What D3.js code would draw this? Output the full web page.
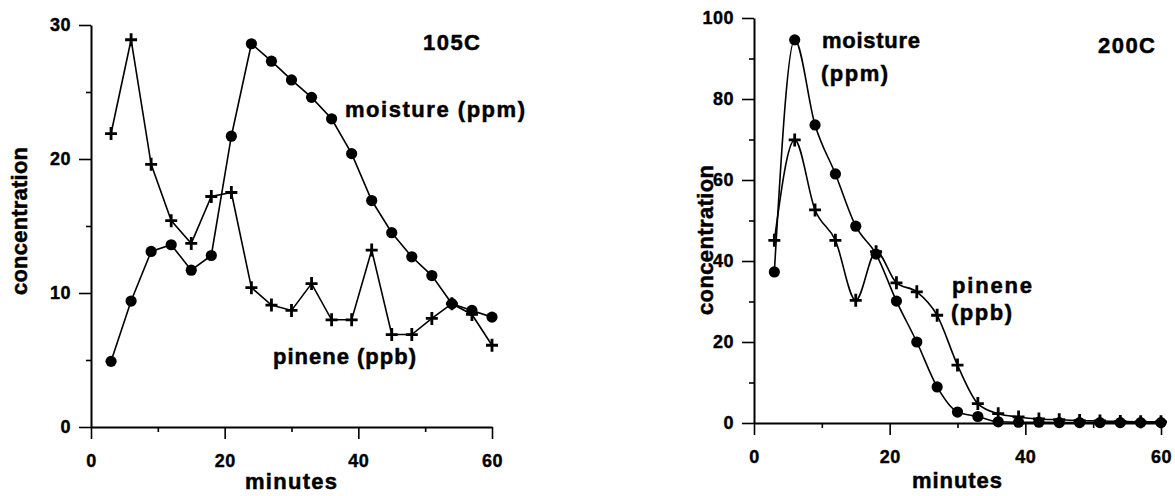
<!DOCTYPE html>
<html>
<head>
<meta charset="utf-8">
<script src="https://cdn.jsdelivr.net/npm/d3@7"></script>
<style>
  html, body { margin: 0; padding: 0; background: #fff; }
  svg { display: block; font-family: "Liberation Sans", Arial, sans-serif; font-weight: bold; }
  text { fill: #000; stroke: #000; }
</style>
</head>
<body>
<script>
// sampling times (minutes)
const minutes = [3, 6, 9, 12, 15, 18, 21, 24, 27, 30, 33, 36, 39, 42, 45, 48, 51, 54, 57, 60];

// 105C run
const moisture105 = [4.9, 9.4, 13.1, 13.6, 11.7, 12.8, 21.7, 28.6, 27.3, 25.9, 24.6, 23.0, 20.4, 16.9, 14.5, 12.7, 11.3, 9.2, 8.7, 8.2];
const pinene105 = [21.9, 28.9, 19.6, 15.4, 13.7, 17.2, 17.5, 10.4, 9.1, 8.7, 10.7, 8.0, 8.0, 13.2, 6.9, 6.9, 8.1, 9.2, 8.4, 6.1];

// 200C run
const moisture200 = [37.3, 94.6, 73.6, 61.5, 48.6, 41.7, 30.1, 20.0, 8.9, 2.7, 1.6, 0.3, 0.2, 0.2, 0.1, 0.1, 0.1, 0.1, 0.1, 0.1];
const pinene200 = [45.1, 69.9, 52.6, 45.1, 30.3, 42.3, 34.6, 32.4, 26.6, 14.3, 4.8, 2.3, 1.5, 1.0, 0.8, 0.6, 0.5, 0.4, 0.3, 0.3];

// tick values
const xTicks = [0, 20, 40, 60];
const xMinor = [10, 30, 50];
const yTicks105 = [0, 10, 20, 30];
const yMinor105 = [5, 15, 25];
const yTicks200 = [0, 20, 40, 60, 80, 100];
const yMinor200 = [10, 30, 50, 70, 90];

const width = 1175, height = 496;

const svg = d3.select("body").append("svg")
  .attr("width", width)
  .attr("height", height);

const panels = [
  {
    x0: 91, x1: 492, y0: 427, y1: 25,
    yMax: 30, yTicks: yTicks105, yMinor: yMinor105,
    moisture: moisture105, pinene: pinene105,
    curve: d3.curveLinear,
    yLabel: { x: 27, y: 221, w: 148 },
    xLabel: { x: 291, y: 489, w: 92 },
    notes: [
      { text: "105C", x: 423, y: 50, w: 57 },
      { text: "moisture (ppm)", x: 345, y: 117, w: 180 },
      { text: "pinene (ppb)", x: 273, y: 364, w: 143 }
    ]
  },
  {
    x0: 754, x1: 1161, y0: 423, y1: 18,
    yMax: 100, yTicks: yTicks200, yMinor: yMinor200,
    moisture: moisture200, pinene: pinene200,
    curve: d3.curveMonotoneX,
    yLabel: { x: 713, y: 240, w: 150 },
    xLabel: { x: 957, y: 488, w: 90 },
    notes: [
      { text: "200C", x: 1098, y: 53, w: 57 },
      { text: "moisture", x: 822, y: 48, w: 98 },
      { text: "(ppm)", x: 821, y: 81, w: 67 },
      { text: "pinene", x: 952, y: 293, w: 80 },
      { text: "(ppb)", x: 951, y: 320, w: 61 }
    ]
  }
];

panels.forEach(p => {
  const x = d3.scaleLinear().domain([0, 60]).range([p.x0, p.x1]);
  const y = d3.scaleLinear().domain([0, p.yMax]).range([p.y0, p.y1]);
  const g = svg.append("g");

  // minor ticks (no labels)
  g.append("g")
    .attr("transform", `translate(0,${p.y0})`)
    .call(d3.axisBottom(x).tickValues(xMinor).tickSize(5).tickSizeOuter(0).tickFormat(""))
    .call(a => a.select(".domain").remove());
  g.append("g")
    .attr("transform", `translate(${p.x0},0)`)
    .call(d3.axisLeft(y).tickValues(p.yMinor).tickSize(5).tickSizeOuter(0).tickFormat(""))
    .call(a => a.select(".domain").remove());

  // major axes
  const xAxis = g.append("g")
    .attr("transform", `translate(0,${p.y0})`)
    .call(d3.axisBottom(x).tickValues(xTicks).tickSize(12).tickPadding(15).tickSizeOuter(0));
  const yAxis = g.append("g")
    .attr("transform", `translate(${p.x0},0)`)
    .call(d3.axisLeft(y).tickValues(p.yTicks).tickSize(12).tickPadding(8).tickSizeOuter(0));

  [xAxis, yAxis].forEach(a => {
    a.attr("font-family", null).attr("font-size", null);
    a.select(".domain").attr("stroke", "#000").attr("stroke-width", 2);
    a.selectAll(".tick text")
      .style("font-size", "18px")
      .style("stroke-width", "0.4px")
      .style("letter-spacing", "0.5px");
  });
  g.selectAll(".tick line").attr("stroke", "#000").attr("stroke-width", 1.6);

  const line = d3.line()
    .x((d, i) => x(minutes[i]))
    .y(d => y(d))
    .curve(p.curve);

  g.append("path").datum(p.moisture)
    .attr("fill", "none").attr("stroke", "#000").attr("stroke-width", 1.6)
    .attr("d", line);
  g.append("path").datum(p.pinene)
    .attr("fill", "none").attr("stroke", "#000").attr("stroke-width", 1.6)
    .attr("d", line);

  // circles = moisture
  g.append("g").selectAll("circle")
    .data(p.moisture)
    .join("circle")
    .attr("cx", (d, i) => x(minutes[i]))
    .attr("cy", d => y(d))
    .attr("r", 5.6)
    .attr("fill", "#000");

  // plus = pinene
  g.append("g").selectAll("path")
    .data(p.pinene)
    .join("path")
    .attr("transform", (d, i) => `translate(${x(minutes[i])},${y(d)})`)
    .attr("d", "M-6,0H6M0,-6.5V6.5")
    .attr("stroke", "#000")
    .attr("stroke-width", 2.8);

  // axis titles
  g.append("text")
    .attr("transform", `translate(${p.yLabel.x},${p.yLabel.y}) rotate(-90)`)
    .attr("text-anchor", "middle")
    .attr("textLength", p.yLabel.w)
    .attr("lengthAdjust", "spacing")
    .style("font-size", "22px")
    .style("stroke-width", "0.5px")
    .text("concentration");
  g.append("text")
    .attr("x", p.xLabel.x)
    .attr("y", p.xLabel.y)
    .attr("text-anchor", "middle")
    .attr("textLength", p.xLabel.w)
    .attr("lengthAdjust", "spacing")
    .style("font-size", "22px")
    .style("stroke-width", "0.5px")
    .text("minutes");

  // annotations
  g.selectAll("text.note")
    .data(p.notes)
    .join("text")
    .attr("class", "note")
    .attr("x", d => d.x)
    .attr("y", d => d.y)
    .attr("textLength", d => d.w)
    .attr("lengthAdjust", "spacing")
    .style("font-size", "22px")
    .style("stroke-width", "0.5px")
    .text(d => d.text);
});
</script>
</body>
</html>
